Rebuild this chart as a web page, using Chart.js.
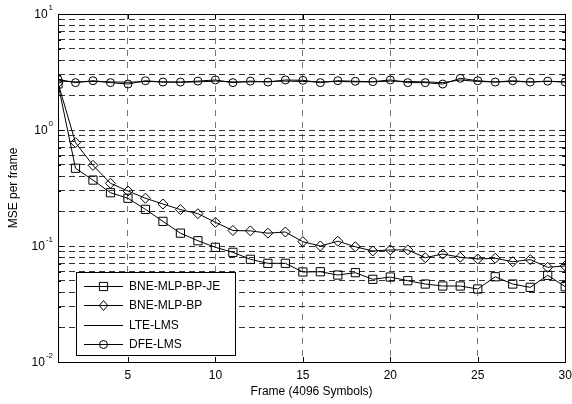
<!DOCTYPE html>
<html><head><meta charset="utf-8">
<script src="https://cdn.jsdelivr.net/npm/chart.js@4/dist/chart.umd.min.js"></script>
<style>html,body{margin:0;padding:0;background:#fff}#wrap{width:572px;height:404px}</style>
</head><body><div id="wrap"><canvas id="c" width="572" height="404"></canvas></div>
<script>
const frames = [1,2,3,4,5,6,7,8,9,10,11,12,13,14,15,16,17,18,19,20,21,22,23,24,25,26,27,28,29,30];
const mseJE = [2.5,0.468,0.37,0.288,0.258,0.207,0.163,0.129,0.111,0.0974,0.0882,0.0768,0.0709,0.0709,0.0597,0.060,0.0562,0.0589,0.0516,0.054,0.0502,0.047,0.0452,0.0452,0.0426,0.0543,0.047,0.044,0.0559,0.0446];
const mseBP = [2.55,0.778,0.496,0.347,0.298,0.258,0.230,0.206,0.190,0.160,0.136,0.135,0.129,0.132,0.109,0.100,0.110,0.0985,0.0906,0.0925,0.0925,0.0793,0.0853,0.080,0.0773,0.0784,0.0732,0.0763,0.0655,0.0673];
const mseLTE = [2.65,2.6,2.62,2.6,2.58,2.62,2.6,2.58,2.6,2.64,2.6,2.6,2.62,2.64,2.62,2.6,2.62,2.6,2.6,2.64,2.62,2.6,2.56,2.7,2.62,2.6,2.62,2.6,2.62,2.6];
const mseDFE = [2.73,2.56,2.66,2.56,2.49,2.66,2.59,2.59,2.64,2.70,2.56,2.64,2.59,2.70,2.68,2.56,2.66,2.63,2.61,2.70,2.56,2.56,2.49,2.79,2.66,2.59,2.66,2.59,2.64,2.59];
const seriesLabels = ['BNE-MLP-BP-JE','BNE-MLP-BP','LTE-LMS','DFE-LMS'];
const xTickValues = [5,10,15,20,25,30];
const yDecadeValues = [0.01,0.1,1,10];
const yDecadeExponents = ['-2','-1','0','1'];
const yGridValues = [];
for (let e = -2; e <= 0; e++) for (let m = 1; m <= 9; m++) yGridValues.push(+(m * Math.pow(10, e)).toPrecision(3));
yGridValues.push(10);

const FONT = "'Liberation Sans', Arial, sans-serif";

function toXY(vals){ return frames.map((f,i)=>({x:f,y:vals[i]})); }

function ds(label, vals, style, radius){
  return {label, data: toXY(vals), borderColor:'#000', borderWidth:1, backgroundColor:'rgba(0,0,0,0)',
    pointStyle: style || 'circle', pointRadius: style ? radius : 0, pointBorderColor:'#000', pointBorderWidth:1,
    pointBackgroundColor:'rgba(0,0,0,0)', pointHoverRadius:0, tension:0, fill:false, _mk: style || null, _r: radius||0};
}

function drawMarker(ctx, style, x, y, r){
  ctx.beginPath();
  if (style === 'rect') { const s = r*Math.SQRT1_2; ctx.rect(x-s,y-s,2*s,2*s); }
  else if (style === 'rectRot') { ctx.moveTo(x, y-r); ctx.lineTo(x+r*0.85, y); ctx.lineTo(x, y+r); ctx.lineTo(x-r*0.85, y); ctx.closePath(); }
  else if (style === 'circle') { ctx.arc(x,y,r,0,Math.PI*2); }
  ctx.stroke();
}

const framePlugin = {
  id:'frame',
  afterDraw(chart){
    const {ctx, chartArea:a, scales:{x,y}} = chart;
    ctx.save();
    ctx.strokeStyle = '#000'; ctx.lineWidth = 1;
    // inward ticks
    ctx.beginPath();
    xTickValues.forEach(v=>{ const px = Math.round(x.getPixelForValue(v))+0.5;
      ctx.moveTo(px, a.bottom); ctx.lineTo(px, a.bottom-5);
      ctx.moveTo(px, a.top); ctx.lineTo(px, a.top+5); });
    yGridValues.forEach(v=>{ const py = Math.round(y.getPixelForValue(v))+0.5;
      const len = yDecadeValues.includes(v) ? 5 : 3;
      ctx.moveTo(a.left, py); ctx.lineTo(a.left+len, py);
      ctx.moveTo(a.right, py); ctx.lineTo(a.right-len, py); });
    ctx.stroke();
    ctx.strokeRect(Math.round(a.left)+0.5, Math.round(a.top)+0.5, Math.round(a.right-a.left), Math.round(a.bottom-a.top));
    // y decade labels
    ctx.fillStyle = '#000';
    ctx.textBaseline = 'middle';
    yDecadeValues.forEach((v,i)=>{
      const py = y.getPixelForValue(v);
      ctx.font = '8px ' + FONT;
      const ew = ctx.measureText(yDecadeExponents[i]).width;
      ctx.font = '12px ' + FONT;
      const bw = ctx.measureText('10').width;
      const right = a.left - 5;
      ctx.textAlign = 'left';
      ctx.fillText('10', right - ew - bw - 1, py + 1);
      ctx.font = '8px ' + FONT;
      ctx.fillText(yDecadeExponents[i], right - ew, py - 6);
    });
    // legend
    const lx = a.left + 18, ly = a.top + 258, lw = 159, lh = 83;
    ctx.fillStyle = '#fff';
    ctx.fillRect(lx, ly, lw, lh);
    ctx.strokeRect(lx+0.5, ly+0.5, lw, lh);
    ctx.font = '12px ' + FONT;
    ctx.textAlign = 'left'; ctx.textBaseline = 'middle';
    chart.data.datasets.forEach((d,i)=>{
      const ry = ly + 13.5 + i*19.5;
      ctx.strokeStyle = '#000'; ctx.lineWidth = 1;
      ctx.beginPath(); ctx.moveTo(lx+8, Math.round(ry)+0.5); ctx.lineTo(lx+47, Math.round(ry)+0.5); ctx.stroke();
      if (d._mk) drawMarker(ctx, d._mk, lx+27.5, Math.round(ry)+0.5, d._r);
      ctx.fillStyle = '#000';
      ctx.fillText(d.label, lx + 53, ry + 1);
    });
    ctx.restore();
  }
};

new Chart(document.getElementById('c'), {
  type:'line',
  data:{ datasets:[
    ds(seriesLabels[0], mseJE, 'rect', 5.8),
    ds(seriesLabels[1], mseBP, 'rectRot', 5),
    ds(seriesLabels[2], mseLTE, null, 0),
    ds(seriesLabels[3], mseDFE, 'circle', 4)
  ]},
  options:{
    responsive:false, animation:false, devicePixelRatio:1,
    layout:{ padding:{top:14, right:5, bottom:0, left:0} },
    plugins:{ legend:{display:false}, tooltip:{enabled:false} },
    elements:{ line:{borderJoinStyle:'miter'} },
    scales:{
      x:{ type:'linear', min:1, max:30,
        afterBuildTicks: s => { s.ticks = xTickValues.map(v=>({value:v})); },
        afterFit: s => { s.height = 42; s.paddingLeft = 0; s.paddingRight = 0; },
        ticks:{ color:'#000', font:{family:FONT, size:12}, padding:6, maxRotation:0, autoSkip:false },
        grid:{ drawTicks:false, lineWidth:1, color: c => (c.tick && c.tick.value === 30) ? 'rgba(0,0,0,0)' : '#777' },
        border:{ display:true, color:'#000', width:1, dash:[6,6] },
        title:{ display:true, text:'Frame (4096 Symbols)', color:'#000', font:{family:FONT, size:12}, padding:{top:0,bottom:5} }
      },
      y:{ type:'logarithmic', min:0.01, max:10,
        afterBuildTicks: s => { s.ticks = yGridValues.map(v=>({value:v, major: yDecadeValues.includes(v)})); },
        afterFit: s => { s.width = 58; },
        ticks:{ display:false },
        grid:{ drawTicks:false, lineWidth:1, color:'#333' },
        border:{ display:true, color:'#000', width:1, dash:[6,4] },
        title:{ display:true, text:'MSE per frame', color:'#000', font:{family:FONT, size:12}, padding:{top:6,bottom:0} }
      }
    }
  },
  plugins:[framePlugin]
});
</script></body></html>
